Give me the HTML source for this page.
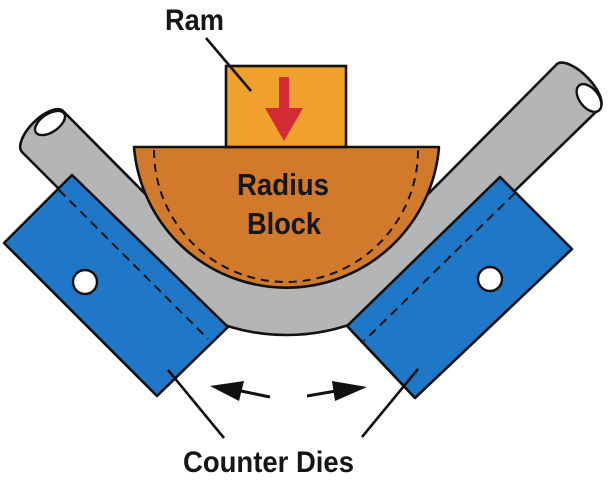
<!DOCTYPE html>
<html>
<head>
<meta charset="utf-8">
<style>
  html,body{margin:0;padding:0;background:#ffffff;}
  svg{display:block;}
  text{font-family:"Liberation Sans", Arial, sans-serif;font-weight:bold;fill:#161616;}
</style>
</head>
<body>
<svg width="609" height="500" viewBox="0 0 609 500" xmlns="http://www.w3.org/2000/svg">
  <rect x="0" y="0" width="609" height="500" fill="#ffffff"/>

  <!-- Pipe (gray) -->
  <path d="M63,111 L188,237 A140,140 0 0 0 385.5,237 L557,64
           A30.8,13 45.6 0 1 600,108
           L425.8,277.3 A197,197 0 0 1 147.2,277.3 L22,152
           A29,13 -45 0 1 63,111 Z"
        fill="#b4b5b7" stroke="#111" stroke-width="2.6" stroke-linejoin="round"/>
  <!-- pipe end holes -->
  <ellipse cx="50" cy="123" rx="17" ry="9" transform="rotate(-34 50 123)" fill="#ffffff" stroke="#111" stroke-width="2.4"/>
  <ellipse cx="589" cy="98" rx="16" ry="9.5" transform="rotate(52 589 98)" fill="#ffffff" stroke="#111" stroke-width="2.4"/>

  <!-- Left counter die -->
  <polygon points="72,175 228,327 157,396 4,243" fill="#1f77c8" stroke="#111" stroke-width="2.6" stroke-linejoin="round"/>
  <line x1="59" y1="190" x2="208" y2="339" stroke="#111" stroke-width="2" stroke-dasharray="9,6"/>
  <circle cx="85" cy="282" r="12" fill="#ffffff" stroke="#111" stroke-width="2.4"/>

  <!-- Right counter die -->
  <polygon points="500,177 572,249 415,398 347,326" fill="#1f77c8" stroke="#111" stroke-width="2.6" stroke-linejoin="round"/>
  <line x1="515" y1="193" x2="364" y2="341" stroke="#111" stroke-width="2" stroke-dasharray="9,6"/>
  <circle cx="490" cy="279" r="12" fill="#ffffff" stroke="#111" stroke-width="2.4"/>

  <!-- Radius block -->
  <path d="M134,147 L439,147 A153,153 0 0 1 134,147 Z" fill="#d27a2c" stroke="#111" stroke-width="2.6" stroke-linejoin="round"/>
  <path d="M154,150 A132,132 0 0 0 418,150" fill="none" stroke="#111" stroke-width="2" stroke-dasharray="8,6"/>

  <!-- Ram -->
  <rect x="226" y="66" width="120" height="81" fill="#efa12b" stroke="#111" stroke-width="2.6"/>
  <rect x="279" y="77" width="10" height="33" fill="#d42a35"/>
  <polygon points="265,108 303,108 284,141" fill="#d42a35"/>

  <!-- Ram label and leader -->
  <text x="165" y="30" font-size="30" textLength="59" lengthAdjust="spacingAndGlyphs">Ram</text>
  <line x1="206" y1="38" x2="251" y2="91" stroke="#111" stroke-width="2.6"/>

  <!-- Radius Block label -->
  <text x="237" y="195" font-size="31" textLength="92" lengthAdjust="spacingAndGlyphs">Radius</text>
  <text x="247" y="234" font-size="31" textLength="74" lengthAdjust="spacingAndGlyphs">Block</text>

  <!-- Motion arrows -->
  <line x1="241" y1="391" x2="270" y2="397" stroke="#111" stroke-width="3"/>
  <polygon points="210,386 244,381 239,401" fill="#111"/>
  <line x1="307" y1="396" x2="336" y2="391" stroke="#111" stroke-width="3"/>
  <polygon points="367,387 332,381 335,401" fill="#111"/>

  <!-- Counter Dies leaders -->
  <line x1="168" y1="370" x2="224" y2="438" stroke="#111" stroke-width="2.6"/>
  <line x1="418" y1="369" x2="362" y2="437" stroke="#111" stroke-width="2.6"/>

  <!-- Counter Dies label -->
  <text x="183" y="472" font-size="30" textLength="171" lengthAdjust="spacingAndGlyphs">Counter Dies</text>
</svg>
</body>
</html>
